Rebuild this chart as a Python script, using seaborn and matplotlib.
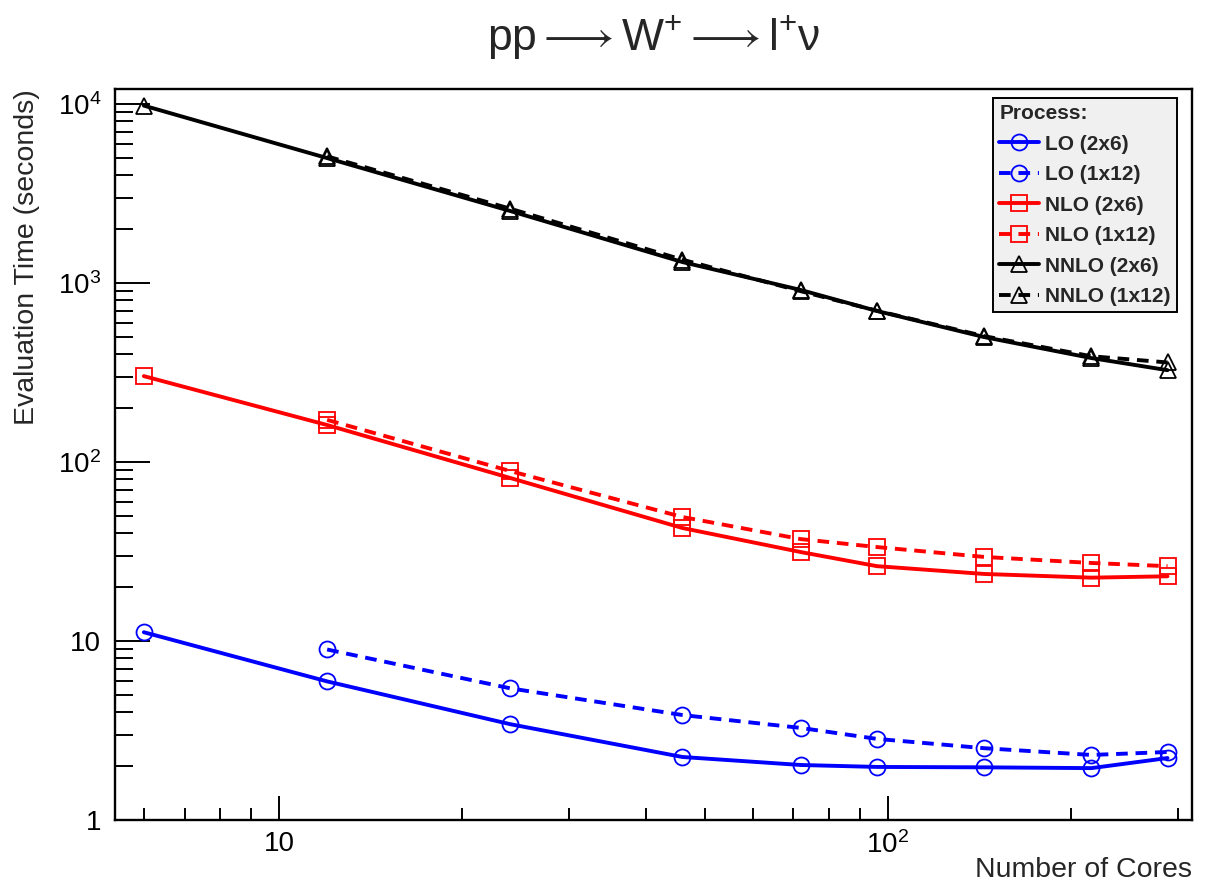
import numpy as np
import pandas as pd
import matplotlib
matplotlib.use("Agg")
import matplotlib.pyplot as plt
import matplotlib.ticker as mticker
import seaborn as sns

# Core counts used in the scaling runs
cores_2x6 = [6, 12, 24, 46, 72, 96, 144, 216, 288]
cores_1x12 = [12, 24, 46, 72, 96, 144, 216, 288]

# Evaluation time in seconds
lo_2x6 = [11.2, 5.95, 3.43, 2.25, 2.03, 1.98, 1.97, 1.95, 2.22]
lo_1x12 = [8.97, 5.44, 3.86, 3.27, 2.84, 2.52, 2.31, 2.40]
nlo_2x6 = [302, 161, 81.4, 42.8, 31.4, 26.2, 23.7, 22.6, 23.0]
nlo_1x12 = [172, 89, 49.3, 37.1, 33.5, 29.5, 27.3, 26.2]
nnlo_2x6 = [9800, 4990, 2525, 1310, 914, 698, 499, 381, 326]
nnlo_1x12 = [5100, 2600, 1350, 900, 700, 505, 390, 360]

series_labels = ["LO (2x6)", "LO (1x12)", "NLO (2x6)", "NLO (1x12)",
                 "NNLO (2x6)", "NNLO (1x12)"]

x_tick_values = [10, 100]
x_tick_labels = ["10", r"$10^{2}$"]
y_tick_values = [1, 10, 100, 1000, 10000]
y_tick_labels = ["1", "10", r"$10^{2}$", r"$10^{3}$", r"$10^{4}$"]

sns.set_style("ticks")
plt.rcParams["font.family"] = ["Liberation Sans", "DejaVu Sans"]
plt.rcParams["mathtext.fontset"] = "custom"
plt.rcParams["mathtext.rm"] = "Liberation Sans"
plt.rcParams["mathtext.it"] = "Liberation Sans:italic"
plt.rcParams["mathtext.bf"] = "Liberation Sans:bold"
plt.rcParams["mathtext.fallback"] = "stix"

frames = []
for label, xs, ys in zip(series_labels,
                         [cores_2x6, cores_1x12, cores_2x6, cores_1x12, cores_2x6, cores_1x12],
                         [lo_2x6, lo_1x12, nlo_2x6, nlo_1x12, nnlo_2x6, nnlo_1x12]):
    frames.append(pd.DataFrame({"cores": xs, "time": ys, "process": label}))
df = pd.concat(frames, ignore_index=True)

styles = {
    "LO (2x6)": dict(color="#0000ff", marker="o", ls="-"),
    "LO (1x12)": dict(color="#0000ff", marker="o", ls=(0, (3, 2))),
    "NLO (2x6)": dict(color="#ff0000", marker="s", ls="-"),
    "NLO (1x12)": dict(color="#ff0000", marker="s", ls=(0, (3, 2))),
    "NNLO (2x6)": dict(color="#000000", marker="^", ls="-"),
    "NNLO (1x12)": dict(color="#000000", marker="^", ls=(0, (3, 2))),
}

fig = plt.figure(figsize=(12.17, 8.85), dpi=100)
ax = fig.add_axes([0.0945, 0.0734, 0.885, 0.826])

for label in series_labels:
    st = styles[label]
    sub = df[df["process"] == label]
    sns.lineplot(data=sub, x="cores", y="time", ax=ax, color=st["color"],
                 linestyle=st["ls"], linewidth=2.8, marker=st["marker"],
                 markersize=11.5, markerfacecolor="none",
                 markeredgecolor=st["color"], markeredgewidth=1.3,
                 label=label, estimator=None, sort=False)

ax.set_xscale("log")
ax.set_yscale("log")
ax.set_xlim(5.38, 316)
ax.set_ylim(1, 12130)

ax.xaxis.set_major_locator(mticker.FixedLocator(x_tick_values))
ax.xaxis.set_major_formatter(mticker.FixedFormatter(x_tick_labels))
ax.xaxis.set_minor_locator(mticker.LogLocator(base=10, subs=np.arange(2, 10)))
ax.xaxis.set_minor_formatter(mticker.NullFormatter())
ax.yaxis.set_major_locator(mticker.FixedLocator(y_tick_values))
ax.yaxis.set_major_formatter(mticker.FixedFormatter(y_tick_labels))
ax.yaxis.set_minor_locator(mticker.LogLocator(base=10, subs=np.arange(2, 10)))
ax.yaxis.set_minor_formatter(mticker.NullFormatter())

ax.tick_params(axis="both", which="both", direction="in", width=1.4,
               colors="black", labelsize=20, top=False, right=False)
ax.tick_params(axis="x", which="major", length=17, pad=8)
ax.tick_params(axis="x", which="minor", length=9)
ax.tick_params(axis="y", which="major", length=25, pad=10)
ax.tick_params(axis="y", which="minor", length=13)

for sp in ax.spines.values():
    sp.set_visible(True)
    sp.set_linewidth(1.7)
    sp.set_color("black")

ax.set_xlabel("Number of Cores", fontsize=20.5, loc="right")
ax.xaxis.set_label_coords(1.0, -0.05)
ax.set_ylabel("Evaluation Time (seconds)", fontsize=20.5, loc="top")
ax.yaxis.set_label_coords(-0.07, 1.0)

fig.text(0.537, 0.958,
         r"pp$\longrightarrow$W$^{+}$$\longrightarrow$l$^{+}$ν",
         fontsize=32, ha="center", va="center")

leg = ax.legend(loc="upper right", bbox_to_anchor=(1177 / 1217, 1 - 98 / 885),
                bbox_transform=fig.transFigure, borderaxespad=0,
                title="Process:", alignment="left", frameon=True, fancybox=False,
                facecolor="#f0f0f0", edgecolor="black", framealpha=1,
                prop={"weight": "bold", "size": 15},
                title_fontproperties={"weight": "bold", "size": 15},
                handlelength=1.9, handletextpad=0.3, labelspacing=0.55,
                borderpad=0.3)
leg.get_frame().set_linewidth(1.4)

fig.savefig("out.png", dpi=100)
